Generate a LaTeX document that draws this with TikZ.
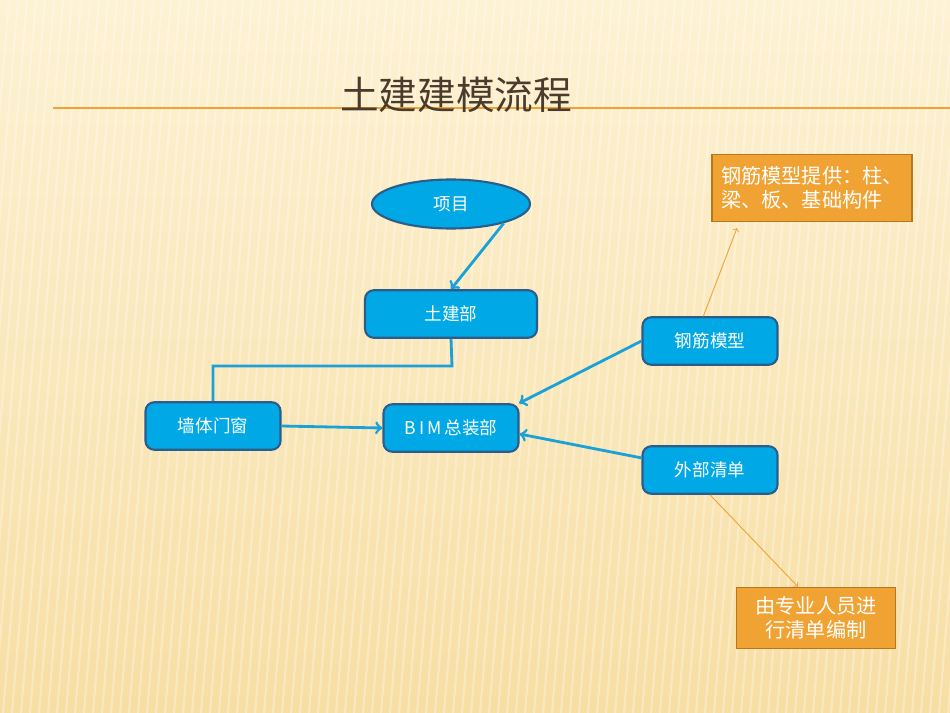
\documentclass[tikz,border=0pt]{standalone}
\usepackage{fontspec}
\usepackage{xcolor}
\usetikzlibrary{shapes.geometric}
\newfontfamily\cjk{Noto Sans CJK SC}

\definecolor{bgtop}{HTML}{FDF2D4}
\definecolor{bgbot}{HTML}{F7DEA4}
\definecolor{boxblue}{HTML}{00A9E6}
\definecolor{rimblue}{HTML}{2B5C8A}
\definecolor{linkblue}{HTML}{1BA1D8}
\definecolor{boxorange}{HTML}{F0A232}
\definecolor{rimorange}{HTML}{B8761E}
\definecolor{titlebrown}{HTML}{4A3B2C}

\tikzset{
    bluebox/.style={draw=rimblue, line width=1.2pt, fill=boxblue, rounded corners=5pt,
        minimum width=2.7cm, minimum height=0.95cm, text=white, font=\cjk\normalsize},
    notebox/.style={draw=rimorange, line width=1pt, fill=boxorange, text=white,
        font=\cjk\fontsize{11.5}{14}\selectfont, align=left, inner sep=3pt},
    bluelink/.style={draw=linkblue, line width=1.6pt},
    notelink/.style={draw=boxorange, line width=0.5pt}
}

\begin{document}
\begin{tikzpicture}[x=0.02cm, y=-0.02cm]
            % background
            \useasboundingbox (0, 0) rectangle (950, 713);
            \shade[top color=bgtop, bottom color=bgbot] (0, 0) rectangle (950, 713);
            \begin{scope}
                \clip (0, 0) rectangle (950, 713);
                \foreach \i in {0, 9, ..., 1010} {
                    \draw[white, opacity=0.3, line width=1.2pt] (\i, 0) -- (\i-60, 713);
                }
            \end{scope}

            % title
            \draw[boxorange, line width=1.2pt] (53, 108) -- (950, 108);
            \node (title) at (456, 95) {\cjk\fontsize{22}{26}\selectfont\color{titlebrown}土建建模流程};

            % nodes
            \node (xm) [ellipse, draw=rimblue, line width=1.2pt, fill=boxblue, text=white,
                font=\cjk\normalsize, minimum width=3.16cm, minimum height=0.98cm] at (451, 204) {项目};
            \node (tj) [bluebox, minimum width=3.44cm] at (451, 314) {土建部};
            \node (qt) [bluebox] at (213, 426) {墙体门窗};
            \node (bim) [bluebox] at (451, 428) {B\,I\,M\,总装部};
            \node (gj) [bluebox] at (710, 341) {钢筋模型};
            \node (wb) [bluebox] at (710, 470) {外部清单};

            \node (n1) [notebox, minimum width=4cm, minimum height=1.34cm] at (812, 188)
                {钢筋模型提供：柱、\\梁、板、基础构件};
            \node (n2) [notebox, align=center, minimum width=3.18cm, minimum height=1.22cm] at (816, 618)
                {由专业人员进\\行清单编制};

            % connectors
            \draw[bluelink, ->] (xm.-20) -- (tj.north);
            \draw[bluelink] (tj.south) -- (452, 366) -| (qt.north);
            \draw[bluelink, ->] (qt.east) -- (bim.west);
            \draw[bluelink, ->] (gj.west) -- (bim.20);
            \draw[bluelink, ->] (wb.170) -- (bim.-5);
            \draw[notelink, ->] (gj.105) -- (737, 228);
            \draw[notelink, ->] (wb.south) -- (n2.120);
        \end{tikzpicture}
\end{document}
